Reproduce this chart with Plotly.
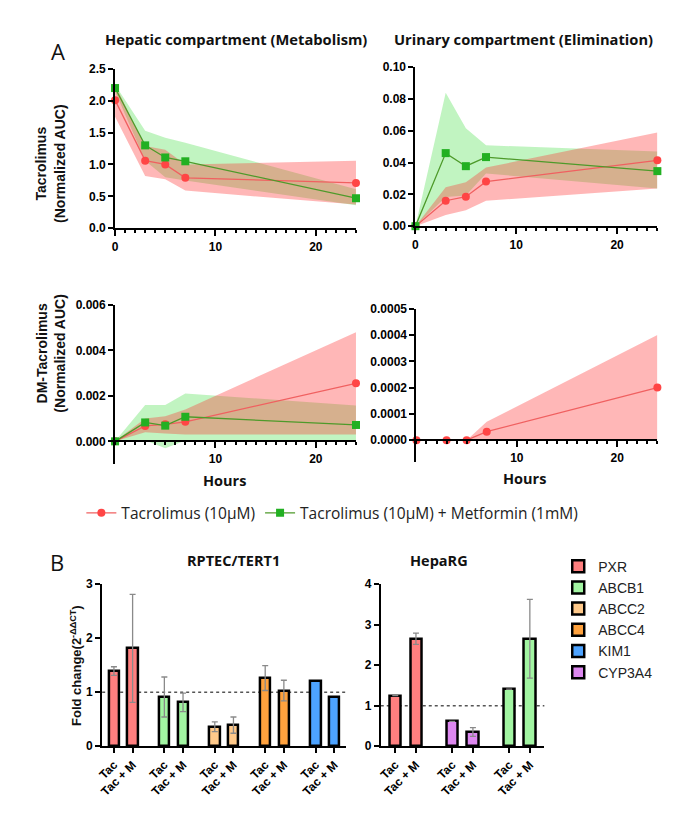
import plotly.graph_objects as go

# ---- Panel A data (time course, mean with band) ----
hours = [0, 3, 5, 7, 24]

hep_tac = [2.01, 1.06, 1.00, 0.79, 0.71]
hep_tac_lo = [1.75, 0.82, 0.77, 0.59, 0.37]
hep_tac_hi = [2.25, 1.29, 1.23, 1.00, 1.06]
hep_met = [2.20, 1.30, 1.11, 1.05, 0.47]
hep_met_lo = [2.15, 1.06, 0.80, 0.75, 0.36]
hep_met_hi = [2.25, 1.53, 1.42, 1.34, 0.61]

uri_tac = [0, 0.016, 0.0185, 0.028, 0.0414]
uri_tac_lo = [0, 0.007, 0.010, 0.016, 0.0237]
uri_tac_hi = [0, 0.0245, 0.0276, 0.0368, 0.0589]
uri_met = [0, 0.0459, 0.0377, 0.0434, 0.0346]
uri_met_lo = [0, 0.0183, 0.0193, 0.0331, 0.0237]
uri_met_hi = [0, 0.0838, 0.0615, 0.0508, 0.0469]

dm_hep_tac = [0, 0.00068, 0.00075, 0.00086, 0.00255]
dm_hep_tac_lo = [0, 0.0004, 0.00035, 0.0003, 0.0003]
dm_hep_tac_hi = [0, 0.0010, 0.0011, 0.0014, 0.0048]
dm_hep_met = [0, 0.00083, 0.00069, 0.00108, 0.00072]
dm_hep_met_lo = [0, 0.00005, -0.0003, 0.00004, 0.00004]
dm_hep_met_hi = [0, 0.0016, 0.0016, 0.0021, 0.00158]

dm_uri_tac = [0, 0, 0, 0.0000324, 0.0002]
dm_uri_tac_lo = [0, 0, 0, 0, 0]
dm_uri_tac_hi = [0, 0, 0, 0.00007, 0.0004]

# ---- Panel B data (fold change) ----
gene_colors = {"PXR": "#FF7F7F", "ABCB1": "#A2F5A2", "ABCC2": "#FFC98A",
               "ABCC4": "#FFA23E", "KIM1": "#4DA3FF", "CYP3A4": "#DD88F0"}
bar_labels = ["Tac", "Tac + M"]

rptec_genes = ["PXR", "ABCB1", "ABCC2", "ABCC4", "KIM1"]
rptec_tac = [1.39, 0.91, 0.36, 1.26, 1.21]
rptec_tacm = [1.81, 0.81, 0.39, 1.03, 0.91]
rptec_tac_err = [0.08, 0.37, 0.09, 0.23, None]
rptec_tacm_err = [1.00, 0.17, 0.15, 0.19, None]

heparg_genes = ["PXR", "CYP3A4", "ABCB1"]
heparg_tac = [1.25, 0.61, 1.41]
heparg_tacm = [2.65, 0.35, 2.65]
heparg_tac_err = [None, None, None]
heparg_tacm_err = [0.14, 0.11, 0.97]

W, H = 700, 823
RED_LINE, RED_MK, RED_FILL = "#F06060", "#FF4545", "rgba(255,50,50,0.35)"
GRN_LINE, GRN_MK, GRN_FILL = "#4E9A2A", "#22B022", "rgba(50,220,50,0.30)"
TICKFONT = dict(family="Liberation Sans", size=12, color="black", weight="bold")
TXT = "Open Sans"


def xd(a, b):
    return [a / W, b / W]


def yd(top, bottom):
    return [1 - bottom / H, 1 - top / H]


fig = go.Figure()


def band(xa, ya, lo, hi, color):
    fig.add_trace(go.Scatter(x=hours, y=hi, mode="lines", line=dict(width=0),
                             hoverinfo="skip", showlegend=False, xaxis=xa, yaxis=ya))
    fig.add_trace(go.Scatter(x=hours, y=lo, mode="lines", line=dict(width=0),
                             fill="tonexty", fillcolor=color, hoverinfo="skip",
                             showlegend=False, xaxis=xa, yaxis=ya))


def tac_line(xa, ya, y, show):
    fig.add_trace(go.Scatter(x=hours, y=y, mode="lines+markers", name="Tacrolimus (10µM)",
                             line=dict(color=RED_LINE, width=1.3),
                             marker=dict(color=RED_MK, size=8, symbol="circle"),
                             legendgroup="tac", showlegend=show, cliponaxis=False,
                             xaxis=xa, yaxis=ya))


def met_line(xa, ya, y, show):
    fig.add_trace(go.Scatter(x=hours, y=y, mode="lines+markers",
                             name="Tacrolimus (10µM) + Metformin (1mM)",
                             line=dict(color=GRN_LINE, width=1.3),
                             marker=dict(color=GRN_MK, size=8, symbol="square"),
                             legendgroup="met", showlegend=show, cliponaxis=False,
                             xaxis=xa, yaxis=ya))


# hepatic, tacrolimus
band("x", "y", hep_met_lo, hep_met_hi, GRN_FILL)
band("x", "y", hep_tac_lo, hep_tac_hi, RED_FILL)
tac_line("x", "y", hep_tac, True)
met_line("x", "y", hep_met, True)

# urinary, tacrolimus
band("x2", "y2", uri_met_lo, uri_met_hi, GRN_FILL)
band("x2", "y2", uri_tac_lo, uri_tac_hi, RED_FILL)
tac_line("x2", "y2", uri_tac, False)
met_line("x2", "y2", uri_met, False)

# hepatic, DM-tacrolimus
band("x3", "y3", dm_hep_met_lo, dm_hep_met_hi, GRN_FILL)
band("x3", "y3", dm_hep_tac_lo, dm_hep_tac_hi, RED_FILL)
tac_line("x3", "y3", dm_hep_tac, False)
met_line("x3", "y3", dm_hep_met, False)

# urinary, DM-tacrolimus
band("x4", "y4", dm_uri_tac_lo, dm_uri_tac_hi, RED_FILL)
tac_line("x4", "y4", dm_uri_tac, False)


# ---- Panel B bars ----
def bars(xa, ya, genes, tac, tacm, tac_err, tacm_err, gap, shown):
    for g, gene in enumerate(genes):
        errs = [tac_err[g], tacm_err[g]]
        has_err = any(e is not None for e in errs)
        fig.add_trace(go.Bar(
            x=[g * gap, g * gap + 1], y=[tac[g], tacm[g]], width=0.55, name=gene,
            marker=dict(color=gene_colors[gene], line=dict(color="black", width=2.5)),
            error_y=dict(type="data", array=errs, visible=has_err, color="#8A8A8A",
                         thickness=1.3, width=3),
            legend="legend2", legendgroup=gene, showlegend=gene not in shown,
            xaxis=xa, yaxis=ya))
        shown.add(gene)


shown = set()
bars("x5", "y5", rptec_genes, rptec_tac, rptec_tacm, rptec_tac_err, rptec_tacm_err, 2.7, shown)
bars("x6", "y6", heparg_genes, heparg_tac, heparg_tacm, heparg_tac_err, heparg_tacm_err, 2.75, shown)


def xax(dom, anchor, **kw):
    d = dict(domain=dom, anchor=anchor, showline=True, linecolor="black", linewidth=2,
             ticks="outside", ticklen=6, tickwidth=2, tickcolor="black",
             tickfont=TICKFONT, showgrid=False, zeroline=False)
    d.update(kw)
    return d


def yax(dom, anchor, **kw):
    d = dict(domain=dom, anchor=anchor, showline=True, linecolor="black", linewidth=2,
             ticks="outside", ticklen=5, tickwidth=2, tickcolor="black",
             tickfont=TICKFONT, showgrid=False, zeroline=False)
    d.update(kw)
    return d


minor = dict(dtick=1, tick0=0, ticks="outside", ticklen=3, tickwidth=1.5, tickcolor="black")

rptec_x = [g * 2.7 + k for g in range(len(rptec_genes)) for k in range(2)]
heparg_x = [g * 2.75 + k for g in range(len(heparg_genes)) for k in range(2)]

fig.update_layout(
    width=W, height=H, margin=dict(l=0, r=0, t=0, b=0),
    paper_bgcolor="white", plot_bgcolor="white", bargap=0,
    xaxis=xax(xd(110, 353), "y", range=[0, 24], tickvals=[0, 10, 20], minor=minor),
    yaxis=yax(yd(63, 225), "x", range=[0, 2.5], dtick=0.5, tickformat=".1f"),
    xaxis2=xax(xd(413, 657), "y2", range=[0, 24], tickvals=[0, 10, 20], minor=minor),
    yaxis2=yax(yd(61, 223), "x2", range=[0, 0.1], dtick=0.02, tickformat=".2f"),
    xaxis3=xax(xd(110, 353), "free", position=1 - 442 / H, range=[0, 24],
               tickvals=[10, 20], minor=minor),
    yaxis3=yax(yd(303, 465), "x3", range=[-0.001, 0.006],
               tickvals=[0, 0.002, 0.004, 0.006], tickformat=".3f"),
    xaxis4=xax(xd(414, 657), "free", position=1 - 441 / H, range=[0, 24],
               tickvals=[10, 20], minor=minor),
    yaxis4=yax(yd(307, 463), "x4", range=[-0.0000835, 0.0005],
               tickvals=[0, 0.0001, 0.0002, 0.0003, 0.0004, 0.0005], tickformat=".4f"),
    xaxis5=xax(xd(97, 343), "y5", range=[-0.63, 12.43], tickvals=rptec_x,
               ticktext=bar_labels * len(rptec_genes), tickangle=-45, ticklen=5),
    yaxis5=yax(yd(587, 752), "x5", range=[0, 3], dtick=1),
    xaxis6=xax(xd(378, 543), "y6", range=[-0.7, 7.2], tickvals=heparg_x,
               ticktext=bar_labels * len(heparg_genes), tickangle=-45, ticklen=5),
    yaxis6=yax(yd(587, 752), "x6", range=[0, 4], dtick=1),
    legend=dict(orientation="h", x=76 / W, y=1 - 515 / H, xanchor="left", yanchor="middle",
                font=dict(family=TXT, size=15.5, color="#222"),
                bgcolor="rgba(0,0,0,0)"),
    legend2=dict(x=557 / W, y=1 - 553 / H, xanchor="left", yanchor="top",
                 font=dict(family="Liberation Sans", size=14, color="#222"),
                 tracegroupgap=0, bgcolor="rgba(0,0,0,0)"),
)

# reference line at fold change 1
for xa, ya in (("x5", "y5"), ("x6", "y6")):
    fig.add_shape(type="line", xref=xa + " domain", x0=0, x1=1, yref=ya, y0=1, y1=1,
                  line=dict(color="#555", width=1.5, dash="dot"), layer="below")


def label(text, px, py, size, bold=True, family=TXT, angle=0):
    fig.add_annotation(text=text, x=px / W, y=1 - py / H, xref="paper", yref="paper",
                       showarrow=False, textangle=angle, xanchor="center", yanchor="middle",
                       font=dict(family=family, size=size, color="#111",
                                 weight="bold" if bold else "normal"))


label("A", 52, 45, 22, bold=False)
label("B", 51, 565, 22, bold=False)
label("Hepatic compartment (Metabolism)", 232, 33, 14.7)
label("Urinary compartment (Elimination)", 522, 33, 14.7)
label("Tacrolimus<br>(Normalized AUC)", 45, 159, 14, family="Liberation Sans", angle=-90)
label("DM-Tacrolimus<br>(Normalized AUC)", 45, 352, 14, family="Liberation Sans", angle=-90)
label("Hours", 220, 482, 14.5)
label("Hours", 523, 480, 14.5)
label("RPTEC/TERT1", 229, 563, 14.5)
label("HepaRG", 437, 563, 14.5)
label("Fold change(2<sup>-ΔΔCT</sup>)", 70, 670, 13, family="Liberation Sans", angle=-90)

fig.write_html("out.html", config={"displayModeBar": False},
               post_script="document.body.style.margin='0';"
                           "document.body.style.overflow='hidden';")
